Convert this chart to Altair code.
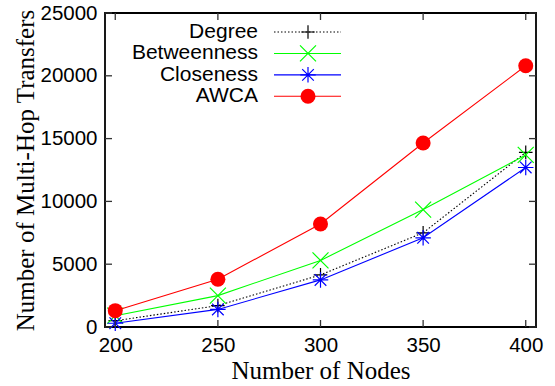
import altair as alt
import pandas as pd

nodes = [200, 250, 300, 350, 400]
series = ["Degree", "Betweenness", "Closeness", "AWCA"]
degree = [500, 1700, 4150, 7500, 13900]
betweenness = [900, 2500, 5300, 9350, 13700]
closeness = [300, 1400, 3750, 7100, 12700]
awca = [1300, 3800, 8200, 14650, 20800]
x_ticks = [200, 250, 300, 350, 400]
y_ticks = [0, 5000, 10000, 15000, 20000, 25000]

W, H = 431, 314
TICK = 7

values = {"Degree": degree, "Betweenness": betweenness, "Closeness": closeness, "AWCA": awca}
rows = []
for s in series:
    for n, v in zip(nodes, values[s]):
        rows.append({"series": s, "nodes": n, "value": v})
df = pd.DataFrame(rows)

PLUS = "M-1,0L1,0M0,-1L0,1"
XSHAPE = "M-1,-1L1,1M-1,1L1,-1"
STAR = "M-1,0L1,0M0,-1L0,1M-0.75,-0.75L0.75,0.75M-0.75,0.75L0.75,-0.75"

style = {
    "Degree": dict(color="#000000", dash=[1.5, 2], shape=PLUS, size=185, filled=False),
    "Betweenness": dict(color="#00ff00", dash=None, shape=XSHAPE, size=256, filled=False),
    "Closeness": dict(color="#0000ff", dash=None, shape=STAR, size=240, filled=False),
    "AWCA": dict(color="#ff0000", dash=None, shape="circle", size=225, filled=True),
}

xscale = alt.Scale(domain=[195, 405], nice=False, zero=False)
yscale = alt.Scale(domain=[0, 25000], nice=False)
xaxis = alt.Axis(values=x_ticks, format="d", title="Number of Nodes",
                 titleX=W / 2, titleY=51, titleBaseline="alphabetic")
yaxis = alt.Axis(values=y_ticks, format="d", title="Number of Multi-Hop Transfers",
                 titleX=-72, titleY=H / 2, titleAngle=270,
                 titleBaseline="alphabetic", titleAlign="center")

base = alt.Chart(df)
layers = []
for s in series:
    st = style[s]
    sub = base.transform_filter(alt.datum.series == s)
    enc = dict(x=alt.X("nodes:Q", scale=xscale, axis=xaxis),
               y=alt.Y("value:Q", scale=yscale, axis=yaxis))
    line_kwargs = dict(color=st["color"], strokeWidth=1.1)
    if st["dash"]:
        line_kwargs["strokeDash"] = st["dash"]
    layers.append(sub.mark_line(**line_kwargs).encode(**enc))
    pt_kwargs = dict(shape=st["shape"], size=st["size"], opacity=1)
    if st["filled"]:
        pt_kwargs.update(filled=True, color=st["color"])
    else:
        pt_kwargs.update(filled=False, stroke=st["color"], strokeWidth=1.2)
    layers.append(sub.mark_point(**pt_kwargs).encode(**enc))

xt = pd.DataFrame({"t": x_ticks})
yt = pd.DataFrame({"t": y_ticks})
tick_style = dict(color="#333333", strokeWidth=1.3)
layers.append(alt.Chart(xt).mark_rule(**tick_style).encode(
    x=alt.X("t:Q", scale=xscale, axis=xaxis), y=alt.value(H), y2=alt.value(H - TICK)))
layers.append(alt.Chart(xt).mark_rule(**tick_style).encode(
    x=alt.X("t:Q", scale=xscale, axis=xaxis), y=alt.value(0), y2=alt.value(TICK)))
layers.append(alt.Chart(yt).mark_rule(**tick_style).encode(
    y=alt.Y("t:Q", scale=yscale, axis=yaxis), x=alt.value(0), x2=alt.value(TICK)))
layers.append(alt.Chart(yt).mark_rule(**tick_style).encode(
    y=alt.Y("t:Q", scale=yscale, axis=yaxis), x=alt.value(W), x2=alt.value(W - TICK)))

main = alt.layer(*layers)

# legend
leg = pd.DataFrame({"series": series})
lscale = alt.Scale(type="point", domain=series, range=[19, 83.3], padding=0)
lbase = alt.Chart(leg)
leg_layers = [
    lbase.mark_text(align="right", baseline="middle", font="Liberation Sans",
                    fontSize=21, color="black").encode(
        x=alt.value(153), y=alt.Y("series:N", scale=lscale, axis=None), text="series:N")
]
for s in series:
    st = style[s]
    sub = lbase.transform_filter(alt.datum.series == s)
    rk = dict(color=st["color"], strokeWidth=1.1)
    if st["dash"]:
        rk["strokeDash"] = st["dash"]
    leg_layers.append(sub.mark_rule(**rk).encode(
        x=alt.value(169), x2=alt.value(236), y=alt.Y("series:N", scale=lscale, axis=None)))
    pk = dict(shape=st["shape"], size=st["size"], opacity=1)
    if st["filled"]:
        pk.update(filled=True, color=st["color"])
    else:
        pk.update(filled=False, stroke=st["color"], strokeWidth=1.2)
    leg_layers.append(sub.mark_point(**pk).encode(
        x=alt.value(203), y=alt.Y("series:N", scale=lscale, axis=None)))
legend = alt.layer(*leg_layers)

chart = alt.layer(main, legend).resolve_scale(y="independent").properties(
    width=W, height=H,
    autosize=alt.AutoSizeParams(type="none"),
    padding={"left": 105, "top": 13, "right": 19, "bottom": 59},
    background="white",
).configure_view(
    stroke="black", strokeWidth=1.8
).configure_axis(
    grid=False, domain=False, ticks=False, tickSize=0,
    labelFont="Liberation Sans", labelFontSize=20.5, labelColor="black",
    titleFont="Liberation Serif", titleFontSize=25, titleFontWeight="normal", titleColor="black",
).configure_axisX(labelPadding=8).configure_axisY(labelPadding=8)

chart.save("out.html", embed_options={"renderer": "svg", "actions": False})
